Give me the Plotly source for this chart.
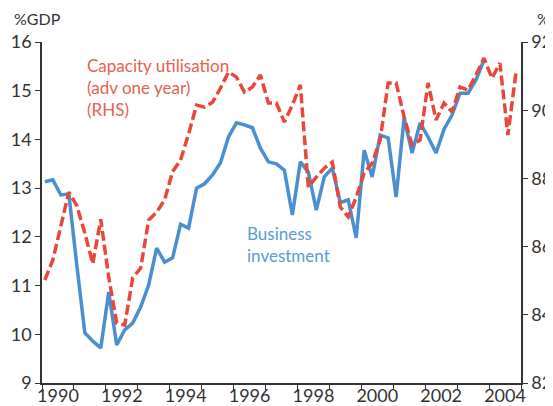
import plotly.graph_objects as go

# quarterly data, 1990 Q1 onwards
invest = [13.13, 13.17, 12.86, 12.88, 11.42, 10.03, 9.86, 9.72,
          10.87, 9.78, 10.09, 10.23, 10.56, 11.01, 11.77, 11.48,
          11.57, 12.26, 12.18, 13.00, 13.09, 13.27, 13.52, 14.05,
          14.34, 14.30, 14.24, 13.82, 13.54, 13.50, 13.37, 12.45,
          13.54, 13.33, 12.55, 13.23, 13.41, 12.70, 12.76, 11.98,
          13.78, 13.23, 14.09, 14.03, 12.82, 14.44, 13.72, 14.34,
          14.05, 13.72, 14.21, 14.50, 14.95, 14.95, 15.22, 15.63]

capacity = [85.02, 85.61, 86.60, 87.60, 87.20, 86.40, 85.50, 86.80,
            85.10, 83.76, 83.70, 85.08, 85.37, 86.78, 87.01, 87.37,
            88.20, 88.54, 89.30, 90.15, 90.09, 90.23, 90.65, 91.12,
            90.97, 90.53, 90.68, 91.03, 90.21, 90.21, 89.65, 90.15,
            90.74, 87.75, 88.04, 88.30, 88.48, 87.16, 86.87, 87.45,
            88.16, 88.45, 89.13, 90.80, 90.80, 89.80, 88.98, 89.13,
            90.80, 89.71, 90.21, 89.95, 90.68, 90.59, 91.03, 91.53,
            90.94, 91.38, 89.27, 91.09]

years = list(range(1990, 2006))
label_years = [1990, 1992, 1994, 1996, 1998, 2000, 2002, 2004]

t_inv = [1990.09 + k / 4 for k in range(len(invest))]
t_cap = [1990.09 + k / 4 for k in range(len(capacity))]

font = "Lato, Open Sans, sans-serif"
axis_col = "#333333"
red = "#e8473b"
blue = "#4a8fd0"

fig = go.Figure()
fig.add_trace(go.Scatter(x=t_inv, y=invest, mode="lines",
                         line=dict(color=blue, width=3.5), yaxis="y"))
fig.add_trace(go.Scatter(x=t_cap, y=capacity, mode="lines",
                         line=dict(color=red, width=3.5, dash="10px,4px"),
                         yaxis="y2"))
# invisible trace so the label axis is drawn
fig.add_trace(go.Scatter(x=[1990], y=[9], mode="markers", opacity=0,
                         xaxis="x2", showlegend=False, hoverinfo="skip"))

# page body adds an 8px offset, so the figure is 8px smaller each way
fig.update_layout(
    width=545, height=398,
    margin=dict(l=34, r=32, t=34, b=23),
    plot_bgcolor="white", paper_bgcolor="white",
    showlegend=False,
    font=dict(family=font, size=18, color=axis_col),
    xaxis=dict(range=[1990, 2005], tickvals=years, ticktext=[""] * len(years),
               ticks="outside", ticklen=5, tickcolor=axis_col,
               showline=True, linecolor=axis_col, linewidth=1.5,
               showgrid=False, zeroline=False, automargin=False),
    xaxis2=dict(range=[1990, 2005], overlaying="x", side="bottom", anchor="y",
                tickvals=[y + 0.5 for y in label_years],
                ticktext=[str(y) for y in label_years],
                ticks="", showgrid=False, zeroline=False, showline=False,
                automargin=False),
    yaxis=dict(range=[9, 16], dtick=1, ticks="outside", ticklen=5,
               tickcolor=axis_col, showline=True, linecolor=axis_col,
               linewidth=1.5, showgrid=False, zeroline=False,
               automargin=False),
    yaxis2=dict(range=[82, 92], dtick=2, overlaying="y", side="right",
                ticks="outside", ticklen=5, tickcolor=axis_col,
                showline=True, linecolor=axis_col, linewidth=1.5,
                showgrid=False, zeroline=False, automargin=False),
)

fig.add_annotation(text="%GDP", xref="paper", yref="paper",
                   x=-0.0626, y=1.068, xanchor="left", yanchor="middle",
                   showarrow=False, font=dict(size=16, color=axis_col))
fig.add_annotation(text="%", xref="paper", yref="paper",
                   x=1.029, y=1.068, xanchor="left", yanchor="middle",
                   showarrow=False, font=dict(size=16, color=axis_col))
fig.add_annotation(text="Capacity utilisation<br>(adv one year)<br>(RHS)",
                   x=1991.35, y=15.78, xanchor="left", yanchor="top",
                   align="left", showarrow=False,
                   font=dict(size=17, color="#e8604f"))
fig.add_annotation(text="Business<br>investment",
                   x=1996.35, y=12.33, xanchor="left", yanchor="top",
                   align="left", showarrow=False,
                   font=dict(size=17, color="#5b9bd5"))

fig.write_html("out.html")
